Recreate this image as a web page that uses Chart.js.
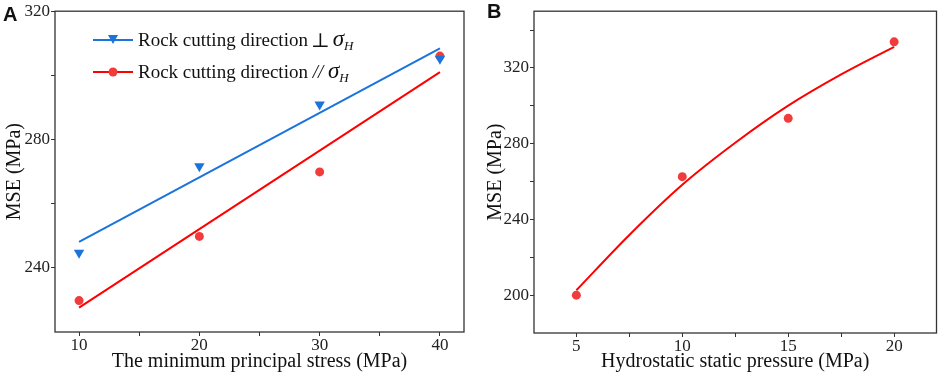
<!DOCTYPE html>
<html>
<head>
<meta charset="utf-8">
<script src="https://cdn.jsdelivr.net/npm/chart.js@4.4.1/dist/chart.umd.min.js"></script>
<style>
  body { margin: 0; background: #fff; }
  #wrap { position: relative; width: 941px; height: 373px; overflow: hidden; font-family: "Liberation Serif", "Times New Roman", serif; color: #111; }
  .panel { position: absolute; top: 0; height: 373px; }
  #panelA { left: 0; width: 470px; }
  #panelB { left: 470px; width: 471px; }
  .tag { position: absolute; font: bold 20px "Liberation Sans", Arial, sans-serif; color: #111; line-height: 1; }
  .legend { position: absolute; left: 93px; top: 24px; font-size: 19px; }
  .row { height: 32px; display: flex; align-items: center; white-space: nowrap; }
  .row svg { margin-right: 5px; }
  .sym { font-family: "DejaVu Serif", serif; font-size: 20px; margin: 0 3px 0 3px; }
  .sig { font-style: italic; font-size: 23px; }
  .sig sub { font-size: 13px; vertical-align: -4px; }
</style>
</head>
<body>
<div id="wrap">
  <div class="panel" id="panelA"><canvas id="chartA"></canvas></div>
  <div class="panel" id="panelB"><canvas id="chartB"></canvas></div>
  <div class="tag" style="left:3px; top:4px;">A</div>
  <div class="tag" style="left:487px; top:1px;">B</div>
  <div class="legend">
    <div class="row">
      <svg width="40" height="14"><line x1="0" y1="7" x2="40" y2="7" stroke="#1a74dc" stroke-width="2"/><polygon points="15,2 25,2 20,11" fill="#1a74dc"/></svg>
      <span>Rock cutting direction</span><span class="sym">⊥</span><span class="sig">σ<sub>H</sub></span>
    </div>
    <div class="row">
      <svg width="40" height="14"><line x1="0" y1="7" x2="40" y2="7" stroke="#f00" stroke-width="2"/><circle cx="20" cy="7" r="4.5" fill="#f23c3c"/></svg>
      <span>Rock cutting direction <i>//</i>&nbsp;</span><span class="sig">σ<sub>H</sub></span>
    </div>
  </div>
</div>
<script>
// panel A data
const stressA = [10, 20, 30, 40];
const msePerp = [244.7, 271.7, 290.9, 305.2];
const mseParallel = [229.8, 249.8, 269.9, 306.0];

// fitted lines (end points)
const fitStressA = [10, 40];
const fitPerp = [248.1, 308.4];
const fitParallel = [227.6, 301.0];

const xTicksA = [10, 15, 20, 25, 30, 35, 40];
const xLabelsA = [10, 20, 30, 40];
const yTicksA = [240, 260, 280, 300, 320];
const yLabelsA = [240, 280, 320];

// panel B data
const pressureB = [5, 10, 15, 20];
const mseB = [200, 262.6, 293.4, 333.8];

// fitted curve
const fitPressureB = [5, 7.5, 10, 12.5, 15, 17.5, 20];
const fitMseB = [202.6, 231.8, 258.3, 280.5, 300.1, 316.6, 331.2];

const xTicksB = [5, 7.5, 10, 12.5, 15, 17.5, 20];
const xLabelsB = [5, 10, 15, 20];
const yTicksB = [200, 220, 240, 260, 280, 300, 320, 340];
const yLabelsB = [200, 240, 280, 320];

const blue = '#1a74dc';
const red = '#ff0000';
const redDot = '#f23c3c';

Chart.defaults.font.family = '"Liberation Serif", "Times New Roman", serif';
Chart.defaults.color = '#222';

const toPoints = (xs, ys) => xs.map((x, i) => ({ x: x, y: ys[i] }));

// draws the box round the plot area
const frame = {
    id: 'frame',
    afterDraw(chart) {
        const { ctx, chartArea: a } = chart;
        ctx.save();
        ctx.strokeStyle = '#333';
        ctx.lineWidth = 1.3;
        ctx.strokeRect(a.left, a.top, a.right - a.left, a.bottom - a.top);
        ctx.restore();
    }
};

function makeAxis(min, max, ticks, labels, title, size, titlePad) {
    const horizontal = size.height !== undefined;
    return {
        type: 'linear',
        min: min,
        max: max,
        border: { display: false },
        grid: { drawOnChartArea: false, drawTicks: true, tickLength: 4, tickColor: '#333', tickWidth: 1 },
        afterBuildTicks: (scale) => { scale.ticks = ticks.map(v => ({ value: v })); },
        afterFit: (scale) => {
            if (horizontal) scale.height = size.height; else scale.width = size.width;
        },
        ticks: {
            autoSkip: false,
            maxRotation: 0,
            padding: horizontal ? -1 : 1,
            font: { size: 17 },
            color: '#222',
            callback: (v) => labels.includes(v) ? v : ''
        },
        title: { display: true, text: title, font: { size: 20 }, color: '#111', padding: titlePad }
    };
}

new Chart(document.getElementById('chartA'), {
    type: 'scatter',
    data: {
        datasets: [
            {
                data: toPoints(stressA, msePerp),
                backgroundColor: blue,
                borderColor: blue,
                pointStyle: 'triangle',
                pointRotation: 180,
                pointRadius: 6,
                borderWidth: 0
            },
            {
                data: toPoints(stressA, mseParallel),
                backgroundColor: redDot,
                borderColor: redDot,
                pointStyle: 'circle',
                pointRadius: 4.5,
                borderWidth: 0
            },
            {
                data: toPoints(fitStressA, fitPerp),
                showLine: true,
                borderColor: blue,
                borderWidth: 2,
                pointRadius: 0
            },
            {
                data: toPoints(fitStressA, fitParallel),
                showLine: true,
                borderColor: red,
                borderWidth: 2,
                pointRadius: 0
            }
        ]
    },
    options: {
        responsive: true,
        maintainAspectRatio: false,
        animation: false,
        layout: { padding: { left: 0, right: 5, top: 7, bottom: 0 } },
        plugins: { legend: { display: false }, tooltip: { enabled: false } },
        scales: {
            x: makeAxis(8, 42, xTicksA, xLabelsA, 'The minimum principal stress (MPa)', { height: 41 }, { top: 0, bottom: -1 }),
            y: makeAxis(220, 320, yTicksA, yLabelsA, 'MSE (MPa)', { width: 55 }, { top: 3, bottom: 0 })
        }
    },
    plugins: [frame]
});

new Chart(document.getElementById('chartB'), {
    type: 'scatter',
    data: {
        datasets: [
            {
                data: toPoints(pressureB, mseB),
                backgroundColor: redDot,
                borderColor: redDot,
                pointStyle: 'circle',
                pointRadius: 4.5,
                borderWidth: 0
            },
            {
                data: toPoints(fitPressureB, fitMseB),
                showLine: true,
                borderColor: red,
                borderWidth: 2,
                pointRadius: 0,
                cubicInterpolationMode: 'monotone'
            }
        ]
    },
    options: {
        responsive: true,
        maintainAspectRatio: false,
        animation: false,
        layout: { padding: { left: 0, right: 3, top: 7, bottom: 0 } },
        plugins: { legend: { display: false }, tooltip: { enabled: false } },
        scales: {
            x: makeAxis(3, 22, xTicksB, xLabelsB, 'Hydrostatic static pressure (MPa)', { height: 40 }, { top: 0, bottom: -1 }),
            y: makeAxis(180, 350, yTicksB, yLabelsB, 'MSE (MPa)', { width: 64 }, { top: 14, bottom: 0 })
        }
    },
    plugins: [frame]
});
</script>
</body>
</html>
